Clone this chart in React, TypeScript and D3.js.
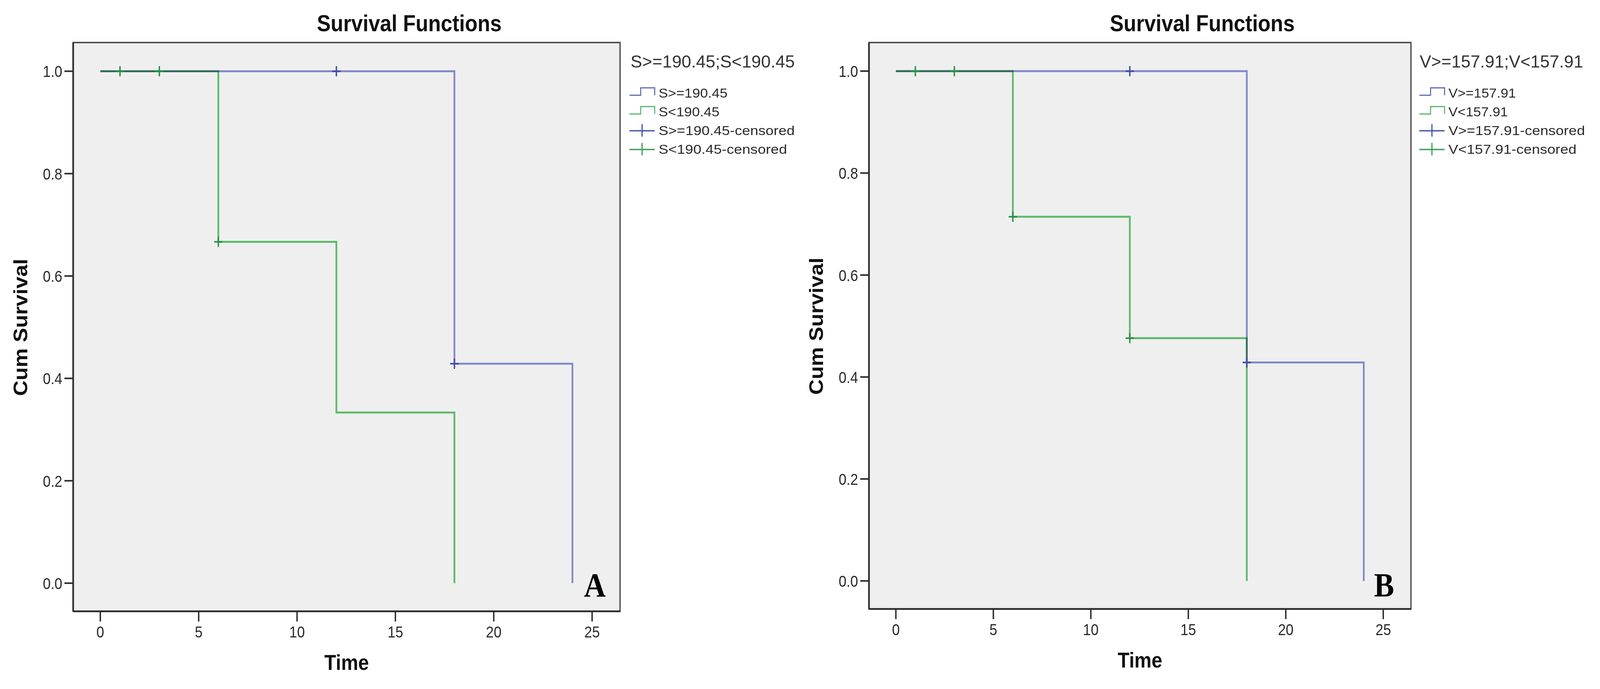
import * as d3 from "d3";

// tick values shared by both panels
const xTicks = [0, 5, 10, 15, 20, 25];
const yTicks = [0, 0.2, 0.4, 0.6, 0.8, 1.0];

// panel A: S split at 190.45
const legendTitleA = "S>=190.45;S<190.45";
const highLabelA = "S>=190.45";
const lowLabelA = "S<190.45";
const highTimesA = [0, 18, 24];
const highSurvA = [1, 0.4286, 0];
const highCensTimesA = [12, 18];
const highCensSurvA = [1, 0.4286];
const lowTimesA = [0, 6, 12, 18];
const lowSurvA = [1, 0.6667, 0.3333, 0];
const lowCensTimesA = [1, 3, 6];
const lowCensSurvA = [1, 1, 0.6667];

// panel B: V split at 157.91
const legendTitleB = "V>=157.91;V<157.91";
const highLabelB = "V>=157.91";
const lowLabelB = "V<157.91";
const highTimesB = [0, 18, 24];
const highSurvB = [1, 0.4286, 0];
const highCensTimesB = [12, 18];
const highCensSurvB = [1, 0.4286];
const lowTimesB = [0, 6, 12, 18];
const lowSurvB = [1, 0.7143, 0.4762, 0];
const lowCensTimesB = [1, 3, 6, 12];
const lowCensSurvB = [1, 1, 0.7143, 0.4762];

const SANS = "'Liberation Sans', Arial, sans-serif";
const SERIF = "'Liberation Serif', 'Times New Roman', serif";
const BLUE = "#8a93d8";
const GREEN = "#62c872";
const BLUE_DARK = "#3e4ea6";
const GREEN_DARK = "#2a9048";

const zip = (a: number[], b: number[]) => a.map((v, i) => [v, b[i]] as [number, number]);

const panels = [
  {
    letter: "A",
    box: { left: 209, right: 1771, top: 109, bottom: 1566 },
    titleX: 1169,
    letterX: 1730,
    legendX: 1798,
    legendTitleX: 1801,
    legendTitle: legendTitleA,
    titleLen: 469,
    entryLens: [197, 174, 389, 367],
    labels: [highLabelA, lowLabelA],
    high: zip(highTimesA, highSurvA),
    low: zip(lowTimesA, lowSurvA),
    highCens: zip(highCensTimesA, highCensSurvA),
    lowCens: zip(lowCensTimesA, lowCensSurvA),
  },
  {
    letter: "B",
    box: { left: 2482, right: 4030, top: 109, bottom: 1560 },
    titleX: 3434,
    letterX: 3982,
    legendX: 4054,
    legendTitleX: 4055,
    legendTitle: legendTitleB,
    titleLen: 467,
    entryLens: [193, 170, 390, 366],
    labels: [highLabelB, lowLabelB],
    high: zip(highTimesB, highSurvB),
    low: zip(lowTimesB, lowSurvB),
    highCens: zip(highCensTimesB, highCensSurvB),
    lowCens: zip(lowCensTimesB, lowCensSurvB),
  },
];

function Panel({ p }: { p: (typeof panels)[number] }) {
  const { box } = p;
  const x = d3.scaleLinear().domain([-1.38, 26.42]).range([box.left, box.right]);
  const y = d3.scaleLinear().domain([-0.055, 1.056]).range([box.bottom, box.top]);
  const line = d3
    .line<[number, number]>()
    .x((d) => x(d[0]))
    .y((d) => y(d[1]))
    .curve(d3.curveStepAfter);
  const plus = (d: [number, number]) => {
    const cx = x(d[0]);
    const cy = y(d[1]);
    return `M${cx - 12},${cy}H${cx + 12}M${cx},${cy - 13}V${cy + 13}`;
  };
  const midX = (box.left + box.right) / 2;
  const midY = (box.top + box.bottom) / 2 + 1;
  const lx = p.legendX;
  const baselines = [250, 298, 346, 394];
  const entryTexts = [p.labels[0], p.labels[1], p.labels[0] + "-censored", p.labels[1] + "-censored"];
  const entryColors = ["#5d68b0", "#5bb26b", "#4a58a8", "#3f9e5a"];

  return (
    <g>
      <text x={p.titleX} y={80} textAnchor="middle" fontFamily={SANS} fontWeight="bold" fontSize={59} fill="#111">
        Survival Functions
      </text>
      <rect
        x={box.left}
        y={box.top}
        width={box.right - box.left}
        height={box.bottom - box.top}
        fill="#efefef"
        stroke="#555"
        strokeWidth={4}
      />
      <line x1={box.left} x2={box.left} y1={box.top} y2={box.bottom} stroke="#2a2a2a" strokeWidth={4.5} />
      <line x1={box.left} x2={box.right} y1={box.bottom} y2={box.bottom} stroke="#2a2a2a" strokeWidth={4.5} />

      {yTicks.map((t) => (
        <g key={"y" + t}>
          <line x1={box.left - 25} x2={box.left} y1={y(t)} y2={y(t)} stroke="#2a2a2a" strokeWidth={4} />
          <text x={box.left - 31} y={y(t) + 15} textAnchor="end" fontFamily={SANS} fontSize={40} fill="#2a2a2a">
            {t.toFixed(1)}
          </text>
        </g>
      ))}
      {xTicks.map((t) => (
        <g key={"x" + t}>
          <line x1={x(t)} x2={x(t)} y1={box.bottom} y2={box.bottom + 26} stroke="#2a2a2a" strokeWidth={4} />
          <text x={x(t)} y={box.bottom + 67} textAnchor="middle" fontFamily={SANS} fontSize={40} fill="#2a2a2a">
            {t}
          </text>
        </g>
      ))}

      <text
        transform={`translate(${box.left - 131},${midY}) rotate(-90)`}
        textAnchor="middle"
        fontFamily={SANS}
        fontWeight="bold"
        fontSize={55}
        fill="#111"
      >
        Cum Survival
      </text>
      <text x={midX} y={box.bottom + 150} textAnchor="middle" fontFamily={SANS} fontWeight="bold" fontSize={55} fill="#111">
        Time
      </text>

      <path d={line(p.high) ?? ""} fill="none" stroke={BLUE} strokeWidth={5} style={{ mixBlendMode: "multiply" }} />
      <path d={line(p.low) ?? ""} fill="none" stroke={GREEN} strokeWidth={5} style={{ mixBlendMode: "multiply" }} />
      {p.highCens.map((d, i) => (
        <path key={"hc" + i} d={plus(d)} stroke={BLUE_DARK} strokeWidth={4} />
      ))}
      {p.lowCens.map((d, i) => (
        <path key={"lc" + i} d={plus(d)} stroke={GREEN_DARK} strokeWidth={4} />
      ))}

      <text x={p.letterX} y={1528} textAnchor="end" fontFamily={SERIF} fontWeight="bold" fontSize={86} fill="#000">
        {p.letter}
      </text>

      {/* legend */}
      <text
        x={p.legendTitleX}
        y={173}
        fontFamily={SANS}
        fontSize={44}
        fill="#333"
        textLength={p.titleLen}
        lengthAdjust="spacingAndGlyphs"
      >
        {p.legendTitle}
      </text>
      {entryTexts.map((label, i) => {
        const b = baselines[i];
        const sym =
          i < 2
            ? `M${lx},${b - 6}H${lx + 32}V${b - 25}H${lx + 72}V${b - 6}`
            : `M${lx},${b - 11}H${lx + 72}M${lx + 36},${b - 28}V${b + 4}`;
        return (
          <g key={label}>
            <path d={sym} fill="none" stroke={entryColors[i]} strokeWidth={i < 2 ? 3 : 3.5} />
            <text
              x={lx + 83}
              y={b}
              fontFamily={SANS}
              fontSize={33}
              fill="#2a2a2a"
              textLength={p.entryLens[i]}
              lengthAdjust="spacingAndGlyphs"
            >
              {label}
            </text>
          </g>
        );
      })}
    </g>
  );
}

export default function App() {
  // stretch the fixed 4570x1765 drawing over whatever viewport the page gets
  return (
    <svg
      viewBox="0 0 4570 1765"
      preserveAspectRatio="none"
      style={{ position: "fixed", left: 0, top: 0, width: "100vw", height: "100vh", background: "#fff" }}
    >
      <rect width={4570} height={1765} fill="#fff" />
      {panels.map((p) => (
        <Panel key={p.letter} p={p} />
      ))}
    </svg>
  );
}
